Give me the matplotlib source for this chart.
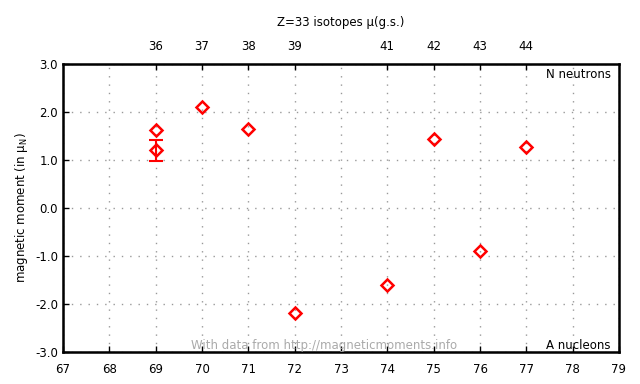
import matplotlib
matplotlib.use("Agg")
import matplotlib.pyplot as plt
import numpy as np

# isotope data (A, mu, error)
A = [69, 69, 70, 71, 72, 74, 75, 76, 77]
mu = [1.62, 1.20, 2.10, 1.65, -2.18, -1.60, 1.44, -0.90, 1.28]
mu_err = [0.02, 0.22, 0.02, 0.02, 0.02, 0.02, 0.02, 0.02, 0.02]
top_A = [69, 70, 71, 72, 74, 75, 76, 77]
top_N = ["36", "37", "38", "39", "41", "42", "43", "44"]

plt.rcParams['font.family'] = ['DejaVu Sans']
fig = plt.figure(figsize=(6.4, 3.84), dpi=100)
ax = fig.add_axes([63 / 640, 1 - 352 / 384, (619 - 63) / 640, (352 - 64) / 384])

a = np.array(A)
m = np.array(mu)
e = np.array(mu_err)
big = e > 0.05
ax.errorbar(a[big], m[big], yerr=e[big], fmt='none', ecolor='red',
            elinewidth=1.5, capsize=5, capthick=1.5, zorder=3)
ax.plot(a, m, 'D', mfc='none', mec='red', mew=1.8, ms=6, zorder=4)

ax.set_xlim(67, 79)
ax.set_ylim(-3, 3)
ax.set_xticks(range(67, 80))
ax.set_yticks([-3, -2, -1, 0, 1, 2, 3])
ax.set_yticklabels([f"{v:.1f}" for v in [-3, -2, -1, 0, 1, 2, 3]])
ax.grid(True, color='#999999', linestyle=(0, (1, 5)), linewidth=1)
ax.tick_params(direction='in', labelsize=8.5, length=4, width=1)
ax.tick_params(axis='x', pad=8)
for s in ax.spines.values():
    s.set_linewidth(1.8)

ax.set_ylabel("magnetic moment (in μ$_\\mathregular{N}$)", fontsize=8.5)

top = ax.twiny()
top.set_xlim(67, 79)
top.set_xticks(top_A)
top.set_xticklabels(top_N)
top.tick_params(direction='in', labelsize=8.5, length=4, width=1, pad=8)
top.set_title("Z=33 isotopes μ(g.s.)", fontsize=8.5, pad=10)

ax.text(0.985, 0.985, "N neutrons", transform=ax.transAxes, ha='right',
        va='top', fontsize=8.5)
ax.text(0.985, 0.0, "A nucleons", transform=ax.transAxes, ha='right',
        va='bottom', fontsize=8.5)
ax.text(0.47, 0.0, "With data from http://magneticmoments.info",
        transform=ax.transAxes, ha='center', va='bottom', fontsize=8.5,
        color='#aaaaaa')

fig.savefig("out.png", dpi=100)
